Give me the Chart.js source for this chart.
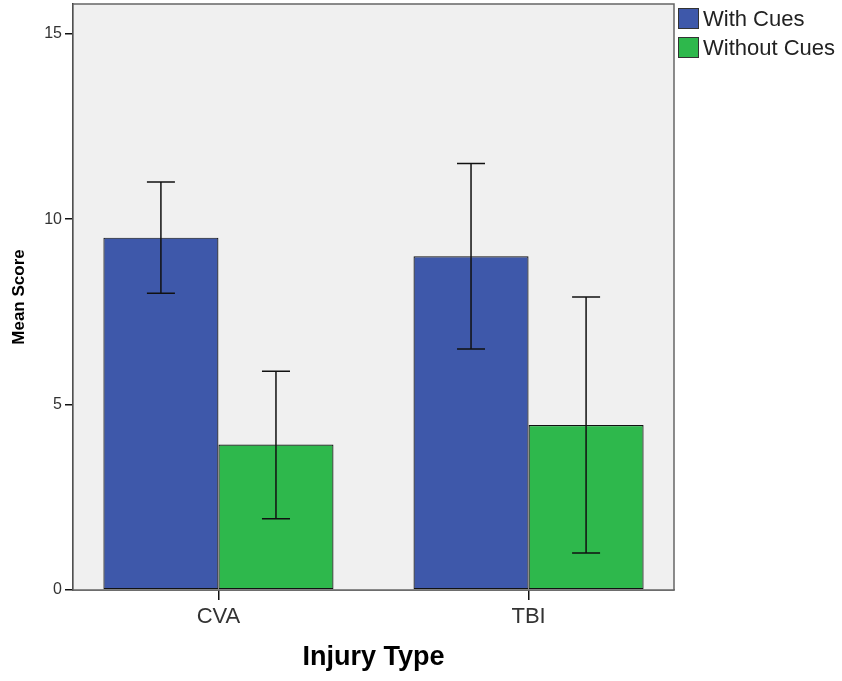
<!DOCTYPE html>
<html>
<head>
<meta charset="utf-8">
<script src="https://cdn.jsdelivr.net/npm/chart.js@4"></script>
<style>
  body { margin: 0; background: #fff; }
</style>
</head>
<body>
<canvas id="myChart" width="842" height="681"></canvas>
<script>
// data
const categories = ['CVA', 'TBI'];
const seriesNames = ['With Cues', 'Without Cues'];
const withCues = [9.5, 9.0];
const withoutCues = [3.92, 4.45];
const withCuesLow = [8.0, 6.5];
const withCuesHigh = [11.0, 11.5];
const withoutCuesLow = [1.92, 1.0];
const withoutCuesHigh = [5.9, 7.9];
const yTicks = [0, 5, 10, 15];

const blue = 'rgb(62, 88, 170)';
const green = 'rgb(46, 184, 76)';
const fontFamily = "'Liberation Sans', Arial, sans-serif";

function points(values) {
    return values.map((v, i) => ({ x: i, y: v }));
}

const errLow = [withCuesLow, withoutCuesLow];
const errHigh = [withCuesHigh, withoutCuesHigh];

// grey plot background + frame
const plotFrame = {
    id: 'plotFrame',
    beforeDatasetsDraw(chart) {
        const { ctx, chartArea: a } = chart;
        ctx.save();
        ctx.fillStyle = '#f0f0f0';
        ctx.fillRect(a.left, a.top, a.right - a.left, a.bottom - a.top);
        ctx.strokeStyle = '#666';
        ctx.lineWidth = 1.5;
        ctx.strokeRect(a.left, a.top, a.right - a.left, a.bottom - a.top);
        ctx.restore();
    }
};

// error bars
const errorBars = {
    id: 'errorBars',
    afterDatasetsDraw(chart) {
        const { ctx } = chart;
        const y = chart.scales.y;
        ctx.save();
        ctx.strokeStyle = '#111';
        ctx.lineWidth = 1.5;
        chart.data.datasets.forEach((ds, i) => {
            const meta = chart.getDatasetMeta(i);
            meta.data.forEach((bar, j) => {
                const x = bar.x;
                const yl = y.getPixelForValue(errLow[i][j]);
                const yh = y.getPixelForValue(errHigh[i][j]);
                ctx.beginPath();
                ctx.moveTo(x, yl);
                ctx.lineTo(x, yh);
                ctx.moveTo(x - 14, yl);
                ctx.lineTo(x + 14, yl);
                ctx.moveTo(x - 14, yh);
                ctx.lineTo(x + 14, yh);
                ctx.stroke();
            });
        });
        ctx.restore();
    }
};

// legend outside the plot, top right
const sideLegend = {
    id: 'sideLegend',
    afterDraw(chart) {
        const { ctx, chartArea: a } = chart;
        ctx.save();
        ctx.font = '22px ' + fontFamily;
        ctx.textBaseline = 'middle';
        chart.data.datasets.forEach((ds, i) => {
            const bx = a.right + 4;
            const by = 8 + i * 29;
            ctx.fillStyle = ds.backgroundColor;
            ctx.fillRect(bx, by, 21, 21);
            ctx.strokeStyle = '#333';
            ctx.lineWidth = 1;
            ctx.strokeRect(bx + 0.5, by + 0.5, 20, 20);
            ctx.fillStyle = '#222';
            ctx.fillText(ds.label, bx + 25, by + 12);
        });
        ctx.restore();
    }
};

const ctx = document.getElementById('myChart').getContext('2d');
const chart = new Chart(ctx, {
    type: 'bar',
    data: {
        datasets: [
            {
                label: seriesNames[0],
                data: points(withCues),
                backgroundColor: blue,
                borderColor: '#111',
                borderWidth: 1.2,
                borderSkipped: false
            },
            {
                label: seriesNames[1],
                data: points(withoutCues),
                backgroundColor: green,
                borderColor: '#111',
                borderWidth: 1.2,
                borderSkipped: false
            }
        ]
    },
    options: {
        responsive: false,
        animation: false,
        categoryPercentage: 0.742,
        barPercentage: 1,
        layout: { padding: { top: 4, right: 168, left: 0, bottom: 0 } },
        plugins: {
            legend: { display: false },
            tooltip: { enabled: false }
        },
        scales: {
            x: {
                type: 'linear',
                min: -0.469,
                max: 1.469,
                offset: false,
                grid: { offset: false, drawOnChartArea: false, drawTicks: true, tickLength: 10, color: '#111', lineWidth: 1.5 },
                border: { color: '#111', width: 1.5 },
                ticks: {
                    stepSize: 1,
                    includeBounds: false,
                    padding: 4,
                    color: '#333',
                    font: { family: fontFamily, size: 22 },
                    callback: (v) => categories[v]
                },
                title: {
                    display: true,
                    text: 'Injury Type',
                    color: '#000',
                    font: { family: fontFamily, size: 27, weight: 'bold' },
                    padding: { top: 0, bottom: 7 }
                },
                afterFit(scale) {
                    scale.height = 91;
                    scale.paddingLeft = 0;
                    scale.paddingRight = 0;
                }
            },
            y: {
                min: 0,
                max: 15.8,
                grid: { drawOnChartArea: false, drawTicks: true, tickLength: 8, color: '#111', lineWidth: 1.5 },
                border: { color: '#111', width: 1.5 },
                afterBuildTicks(scale) { scale.ticks = yTicks.map(v => ({ value: v })); },
                ticks: {
                    padding: 3,
                    color: '#333',
                    font: { family: fontFamily, size: 16 }
                },
                title: {
                    display: true,
                    text: 'Mean Score',
                    color: '#000',
                    font: { family: fontFamily, size: 17, weight: 'bold' },
                    padding: { top: 9, bottom: 0 }
                },
                afterFit(scale) {
                    scale.width = 73;
                    scale.paddingTop = 0;
                    scale.paddingBottom = 0;
                }
            }
        }
    },
    plugins: [plotFrame, errorBars, sideLegend]
});
</script>
</body>
</html>
